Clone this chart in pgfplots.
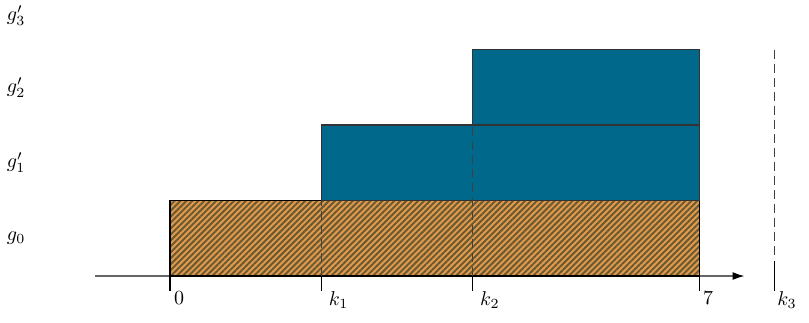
\documentclass[border=0pt]{standalone}
\usepackage{graphicx}
\usepackage{pgfplots}
\pgfplotsset{compat=1.18}
\usetikzlibrary{patterns.meta,arrows.meta}
\definecolor{barorange}{HTML}{E49A4C}
\definecolor{stripe}{HTML}{6A5A32}
\definecolor{barblue}{HTML}{00698B}
\newcommand{\biglbl}[1]{\scalebox{2}{#1}}
\begin{document}
\begin{tikzpicture}
\begin{axis}[
  x=75.6pt, y=75.5pt,
  xmin=-2.249, xmax=8.452, ymin=-0.609, ymax=3.656,
  hide axis, clip=false,
]
\coordinate (ll) at (axis cs:-2.249,-0.609);
\coordinate (ur) at (axis cs:8.452,3.656);
\coordinate (t0) at (axis cs:0.05,-0.21);
\coordinate (t1) at (axis cs:2.1,-0.21);
\coordinate (t2) at (axis cs:4.1,-0.21);
\coordinate (t7) at (axis cs:7.05,-0.21);
\coordinate (t8) at (axis cs:8.03,-0.21);
\coordinate (y0) at (axis cs:-2.16,0.5);
\coordinate (y1) at (axis cs:-2.16,1.5);
\coordinate (y2) at (axis cs:-2.16,2.5);
\coordinate (y3) at (axis cs:-2.16,3.45);
% axis line
\addplot[color=black!60, line width=1.5pt, -{Latex[length=12pt,width=8pt,black]}] coordinates {(-0.99,0) (7.6,0)};
% ticks
\addplot[black, line width=1.2pt] coordinates {(0,0) (0,-0.2)};
\addplot[black, line width=1.2pt] coordinates {(2,0) (2,-0.2)};
\addplot[black, line width=1.2pt] coordinates {(4,0) (4,-0.2)};
\addplot[black, line width=1.2pt] coordinates {(7,0) (7,-0.2)};
\addplot[black, line width=1.2pt] coordinates {(8,0.2) (8,-0.2)};
% bars
\addplot[draw=black, line width=1.3pt, fill=barorange,
  postaction={pattern={Lines[angle=45,distance=4.2pt,line width=2pt]}, pattern color=stripe}]
  coordinates {(0,0) (7,0) (7,1) (0,1)} -- cycle;
\addplot[draw=black!80, line width=1.3pt, fill=barblue]
  coordinates {(2,1) (7,1) (7,2) (2,2)} -- cycle;
\addplot[draw=black!80, line width=1.3pt, fill=barblue]
  coordinates {(4,2) (7,2) (7,3) (4,3)} -- cycle;
% dashed lines
\addplot[black!75, line width=0.9pt, dash pattern=on 9pt off 5pt] coordinates {(2,0) (2,1)};
\addplot[black!75, line width=0.9pt, dash pattern=on 9pt off 5pt] coordinates {(4,0) (4,2)};
\addplot[black!75, line width=0.9pt, dash pattern=on 9pt off 5pt] coordinates {(8,3) (8,0.22)};
\end{axis}
% labels (outside the axis environment)
\node[anchor=north west, inner sep=0pt] at (t0) {\biglbl{$0$}};
\node[anchor=north west, inner sep=0pt] at (t1) {\biglbl{$k_1$}};
\node[anchor=north west, inner sep=0pt] at (t2) {\biglbl{$k_2$}};
\node[anchor=north west, inner sep=0pt] at (t7) {\biglbl{$7$}};
\node[anchor=north west, inner sep=0pt] at (t8) {\biglbl{$k_3$}};
\node[anchor=west, inner sep=0pt] at (y0) {\biglbl{$g_0$}};
\node[anchor=west, inner sep=0pt] at (y1) {\biglbl{$g_1'$}};
\node[anchor=west, inner sep=0pt] at (y2) {\biglbl{$g_2'$}};
\node[anchor=west, inner sep=0pt] at (y3) {\biglbl{$g_3'$}};
\pgfresetboundingbox
\useasboundingbox (ll) rectangle (ur);
\end{tikzpicture}
\end{document}
